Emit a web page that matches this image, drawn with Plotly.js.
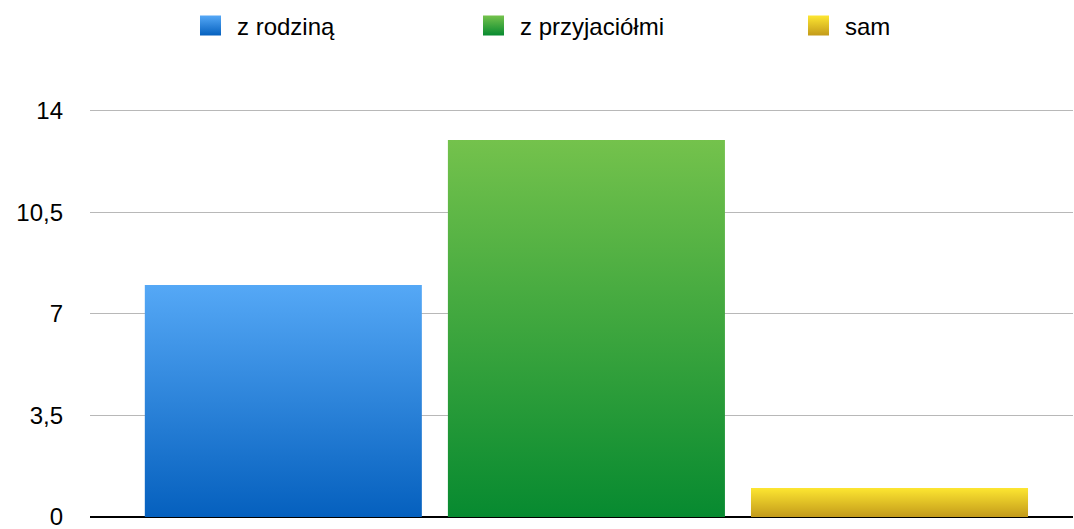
<!DOCTYPE html>
<html>
<head>
<meta charset="utf-8">
<script src="https://cdn.plot.ly/plotly-3.0.1.min.js"></script>
<style>html,body{margin:0;padding:0;background:#fff;}#chart{width:1074px;height:529px;}</style>
</head>
<body>
<div id="chart"></div>
<script>
const category = ['wynik'];
const seriesNames = ['z rodziną', 'z przyjaciółmi', 'sam'];
const seriesValues = [[8], [13], [1]];
const tickValues = [0, 3.5, 7, 10.5, 14];
const tickLabels = ['0', '3,5', '7', '10,5', '14'];

const colorsMid = ['#2f84dc', '#3ea53c', '#e0c024'];
const gradients = [['#55a8f6', '#0560be'], ['#74c24c', '#078a30'], ['#fde631', '#c39a1a']];
const legendX = [197, 480, 805];

const FONT = 'Liberation Sans, Arial, Helvetica, sans-serif';

const traces = seriesNames.map((n, i) => ({
  type: 'bar',
  name: n,
  x: category,
  y: seriesValues[i],
  marker: {color: colorsMid[i], line: {width: 0}},
  legend: i === 0 ? 'legend' : 'legend' + (i + 1),
  hoverinfo: 'skip'
}));

function legendCfg(px) {
  return {
    orientation: 'h', xref: 'container', yref: 'container',
    x: px / 1074, xanchor: 'left', y: 1 - 26 / 529, yanchor: 'middle',
    font: {family: FONT, size: 24, color: '#000'}, bgcolor: 'rgba(0,0,0,0)',
    borderwidth: 0
  };
}

const layout = {
  width: 1074, height: 529,
  margin: {l: 90, r: 1, t: 108, b: 12, pad: 0},
  paper_bgcolor: '#fff', plot_bgcolor: '#fff',
  separators: ', ',
  barmode: 'group', bargap: 0.075, bargroupgap: 0.086,
  showlegend: true,
  legend: legendCfg(legendX[0]),
  legend2: legendCfg(legendX[1]),
  legend3: legendCfg(legendX[2]),
  xaxis: {range: [-0.505, 0.495], showticklabels: false, showgrid: false, zeroline: false, showline: false, ticks: ''},
  yaxis: {
    range: [0, 14.1], tickvals: tickValues, ticktext: tickLabels,
    showgrid: true, gridcolor: '#b8b8b8', gridwidth: 1,
    zeroline: true, zerolinecolor: '#000', zerolinewidth: 2,
    ticks: '', ticklabelstandoff: 26, ticklabeloverflow: 'allow',
    tickfont: {family: FONT, size: 24, color: '#000'}
  },
  font: {family: FONT}
};

Plotly.newPlot('chart', traces, layout, {staticPlot: true, displayModeBar: false}).then(gd => {
  const svg = gd.querySelector('svg.main-svg');
  const ns = 'http://www.w3.org/2000/svg';
  let defs = svg.querySelector('defs');
  if (!defs) { defs = document.createElementNS(ns, 'defs'); svg.insertBefore(defs, svg.firstChild); }
  gradients.forEach((g, i) => {
    const lg = document.createElementNS(ns, 'linearGradient');
    lg.setAttribute('id', 'grad' + i);
    lg.setAttribute('x1', '0'); lg.setAttribute('y1', '0');
    lg.setAttribute('x2', '0'); lg.setAttribute('y2', '1');
    [[0, g[0]], [1, g[1]]].forEach(([o, c]) => {
      const s = document.createElementNS(ns, 'stop');
      s.setAttribute('offset', o); s.setAttribute('stop-color', c);
      lg.appendChild(s);
    });
    defs.appendChild(lg);
  });
  gd.querySelectorAll('.barlayer .trace').forEach((t, i) => {
    t.querySelectorAll('path').forEach(p => { p.style.fill = 'url(#grad' + i + ')'; });
  });
  const legends = ['legend', 'legend2', 'legend3'];
  legends.forEach((lid, i) => {
    gd.querySelectorAll('.' + lid + ' .legendpoints path').forEach(p => {
      p.setAttribute('d', 'M-17,-10H4V10H-17Z');
      p.style.fill = 'url(#grad' + i + ')';
    });
  });
});
</script>
</body>
</html>
